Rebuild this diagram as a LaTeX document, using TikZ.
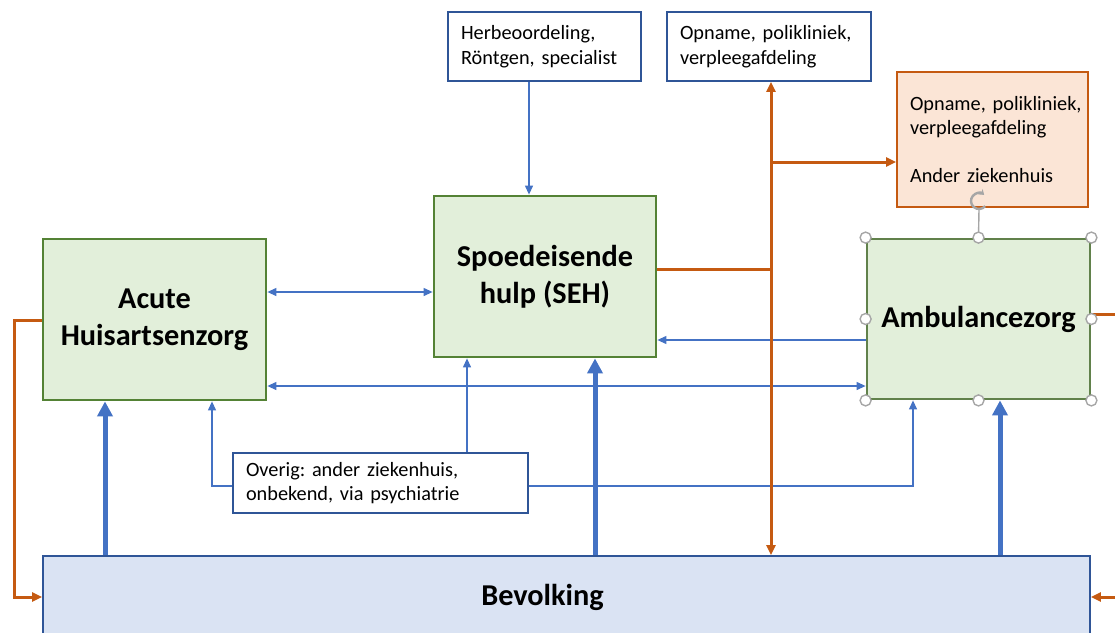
\documentclass[tikz,border=0pt]{standalone}
\usepackage{fontspec}
\setmainfont{Carlito}
\usetikzlibrary{arrows.meta}
\definecolor{blueL}{HTML}{4472C4}
\definecolor{blueD}{HTML}{2F5597}
\definecolor{greenB}{HTML}{548235}
\definecolor{greenF}{HTML}{E2EFDA}
\definecolor{orangeB}{HTML}{C55A11}
\definecolor{orangeF}{HTML}{FBE5D6}
\definecolor{bevF}{HTML}{DAE3F3}
\definecolor{handle}{HTML}{A6A6A6}
\frenchspacing
\hyphenpenalty=10000
\hbadness=10000
\hfuzz=50pt
\tikzset{
  txtbox/.style={draw=blueD, fill=white, line width=1.8pt, inner sep=0pt, align=left,
    font=\fontsize{20.3}{24.5}\selectfont},
  greenbox/.style={draw=greenB, fill=greenF, line width=2.8pt, inner sep=0pt, align=center,
    font=\fontsize{30.3}{37}\selectfont\bfseries},
  thinarr/.style={draw=blueL, line width=1.2pt},
  thickarr/.style={draw=blueL, line width=5pt, -{Triangle[length=15pt,width=15pt]}},
  orline/.style={draw=orangeB, line width=3pt},
  tipb/.tip={Triangle[length=9pt,width=8pt]},
  tipo/.tip={Triangle[length=10pt,width=9pt]},
  hnd/.style={draw=handle, fill=white, line width=1.4pt},
}
\begin{document}
\begin{tikzpicture}[x=1pt,y=-1pt]
\useasboundingbox (0,0) rectangle (1115,632);
\begin{scope}
\clip (0,0) rectangle (1115,632);
% nodes
\node[txtbox, minimum width=193pt, minimum height=69pt, text width=167pt] (herb) at (544.5,46.5) {Herbeoordeling,\\Röntgen, specialist};
\node[txtbox, minimum width=204pt, minimum height=69pt, text width=178pt] (opn) at (769,46.5) {Opname, polikliniek,\\verpleegafdeling};
\node[txtbox, draw=orangeB, fill=orangeF, minimum width=191pt, minimum height=135pt, text width=165pt] (oran) at (992.5,139.5) {Opname,~polikliniek,\\verpleegafdeling\\[23pt]Ander ziekenhuis};
\node[greenbox, minimum width=222pt, minimum height=161pt] (seh) at (545,276.5) {Spoedeisende\\hulp (SEH)};
\node[greenbox, minimum width=223pt, minimum height=161pt] (acute) at (154.5,319.5) {Acute\\Huisartsenzorg};
\node[greenbox, draw=greenB!70!gray, minimum width=223pt, minimum height=160pt] (amb) at (978.5,319) {Ambulancezorg};
\node[draw=blueD, fill=bevF, line width=1.8pt, minimum width=1047pt, minimum height=82pt, inner sep=0pt] (bev) at (566.5,597) {};
\node[font=\fontsize{30.3}{37}\selectfont\bfseries, inner sep=0pt] (bevtxt) at (542.5,597) {Bevolking};
\node[txtbox, minimum width=295pt, minimum height=60pt, text width=269pt] (ovr) at (380.5,483) {Overig: ander ziekenhuis,\\onbekend, via psychiatrie};
% helper coordinates
\coordinate (xa) at (529,0);
\coordinate (ya) at (0,292);
\coordinate (yb) at (0,340);
\coordinate (yc) at (0,386);
\coordinate (yd) at (0,486);
\coordinate (xb) at (212,0);
\coordinate (xc) at (467,0);
\coordinate (xd) at (913,0);
\coordinate (xe) at (105,0);
\coordinate (xf) at (595,0);
\coordinate (xg) at (1000,0);
\coordinate (ye) at (0,269);
\coordinate (xh) at (771,0);
\coordinate (yf) at (0,162);
\coordinate (yg) at (0,320);
\coordinate (xi) at (14,0);
\coordinate (yh) at (0,597);
\coordinate (yi) at (0,314);
\coordinate (edge) at (1118,0);
% thin blue connectors
\draw[thinarr, -tipb] (xa |- herb.south) -- (xa |- seh.north);
\draw[thinarr, tipb-tipb] (acute.east |- ya) -- (seh.west |- ya);
\draw[thinarr, -tipb] (amb.west |- yb) -- (seh.east |- yb);
\draw[thinarr, tipb-tipb] (acute.east |- yc) -- (amb.west |- yc);
\draw[thinarr, -tipb] (ovr.west |- yd) -- (xb |- yd) -- (xb |- acute.south);
\draw[thinarr, -tipb] (xc |- ovr.north) -- (xc |- seh.south);
\draw[thinarr, -tipb] (ovr.east |- yd) -- (xd |- yd) -- (xd |- amb.south);
% orange connectors
\draw[orline] (seh.east |- ye) -- (xh |- ye);
\draw[orline, tipo-tipo] (xh |- opn.south) -- (xh |- bev.north);
\draw[orline, -tipo] (xh |- yf) -- (oran.west |- yf);
\draw[orline, -tipo] (acute.west |- yg) -- (xi |- yg) -- (xi |- yh) -- (bev.west |- yh);
\draw[orline] (amb.east |- yi) -- (edge |- yi);
\draw[orline, -tipo] (edge |- yh) -- (bev.east |- yh);
% thick blue arrows
\draw[thickarr] (xe |- bev.north) -- (xe |- acute.south);
\draw[thickarr] (xf |- bev.north) -- (xf |- seh.south);
\draw[thickarr] (xg |- bev.north) -- (xg |- amb.south);
% selection handles
\coordinate (rot) at (979,201);
\draw[draw=handle, line width=1.4pt] (amb.north) -- (979,209);
\draw[draw=handle, line width=2.4pt, -{Stealth[length=5pt,width=7pt]}] (rot) ++(-40:8pt) arc[start angle=-40, end angle=-310, radius=8pt];
\foreach \a in {north west,north,north east,west,east,south west,south,south east}
  \draw[hnd] (amb.\a) circle[radius=5.5pt];
\end{scope}
\end{tikzpicture}
\end{document}
